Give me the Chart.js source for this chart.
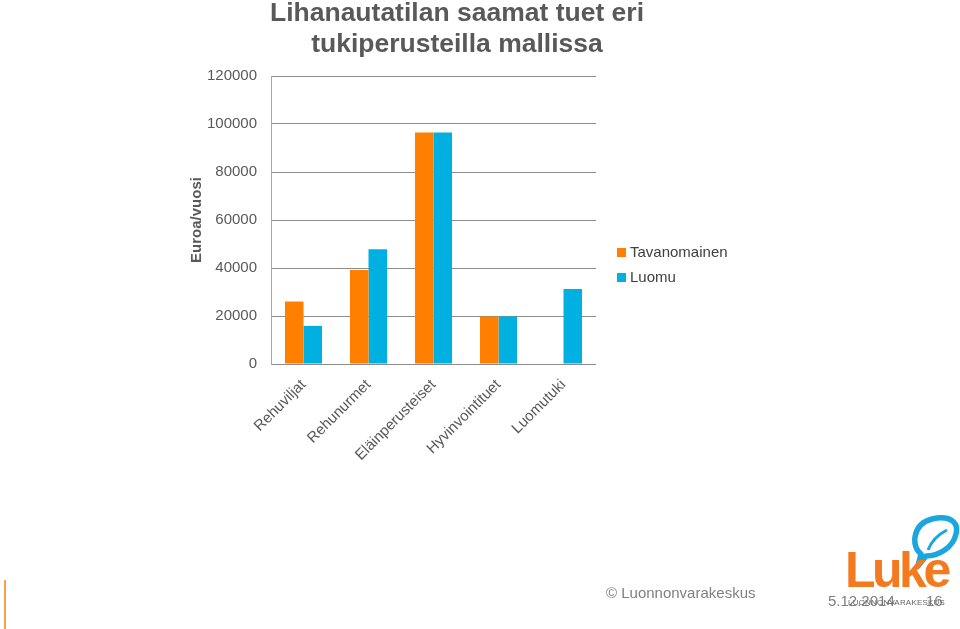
<!DOCTYPE html>
<html>
<head>
<meta charset="utf-8">
<script src="https://cdn.jsdelivr.net/npm/chart.js@4"></script>
<style>
    body { margin: 0; width: 960px; height: 629px; overflow: hidden; background: #fff; font-family: "Liberation Sans", Arial, sans-serif; }
    #wrap { position: relative; width: 960px; height: 629px; }
    #chart { position: absolute; left: 0; top: 0; }
    .title { position: absolute; left: 157px; width: 600px; top: -3px; text-align: center; font-weight: bold; font-size: 26.5px; line-height: 31px; color: #595959; }
    #legend { position: absolute; left: 617px; top: 242px; font-size: 15px; color: #404040; }
    #legend div { height: 25px; line-height: 20px; }
    #legend span.box { display: inline-block; width: 9px; height: 9px; margin-right: 4px; }
    .foot { position: absolute; color: #808080; font-size: 15px; }
    .stripe { position: absolute; left: 4px; top: 580px; width: 2px; height: 49px; background: #f7a24a; }
</style>
</head>
<body>
<div id="wrap">
    <canvas id="chart" width="960" height="629"></canvas>
    <div class="title">Lihanautatilan saamat tuet eri<br>tukiperusteilla mallissa</div>
    <div id="legend"></div>
    <div class="stripe"></div>
    <div class="foot" style="left:606px; top:584px;">© Luonnonvarakeskus</div>
    <div class="foot" style="left:828px; top:592px;">5.12.2014</div>
    <div class="foot" style="left:926px; top:592px;">16</div>
    <!-- Luke-logo -->
    <svg style="position:absolute; left:904px; top:514px;" width="56" height="56" viewBox="0 0 56 56">
        <path d="M14 52 L17 40 C7 33 8 10 28 5 C46 1 55 8 52 20 C49 34 34 42 22 42 Z" fill="none" stroke="#1aa6de" stroke-width="5.5" stroke-linejoin="round"/>
        <path d="M24 36 C28 26 35 20 43 16" fill="none" stroke="#1aa6de" stroke-width="3"/>
    </svg>
    <div style="position:absolute; left:845px; top:542px; font-size:50px; font-weight:bold; color:#f47a20; letter-spacing:-3.5px; line-height:56px;">Luke</div>
    <div style="position:absolute; left:848px; top:598px; font-size:8px; color:#666; letter-spacing:0.2px;">LUONNONVARAKESKUS</div>
</div>
<script>
    // Tukimuodot (kategoriat)
    const categories = ["Rehuviljat", "Rehunurmet", "Eläinperusteiset", "Hyvinvointituet", "Luomutuki"];
    const seriesNames = ["Tavanomainen", "Luomu"];
    const tavanomainen = [26000, 39200, 96500, 19800, null];
    const luomu = [15900, 47800, 96500, 19800, 31300];
    const seriesColors = ["#ff8000", "#00b0e0"];
    const yTicks = [0, 20000, 40000, 60000, 80000, 100000, 120000];

    const gridGray = "#8c8c8c";
    const tickGray = "#595959";

    const chart = new Chart(document.getElementById("chart"), {
        type: "bar",
        data: {
            labels: categories,
            datasets: [
                { label: seriesNames[0], data: tavanomainen, backgroundColor: seriesColors[0] },
                { label: seriesNames[1], data: luomu, backgroundColor: seriesColors[1] }
            ]
        },
        options: {
            responsive: false,
            animation: false,
            layout: { padding: { left: 180, right: 364, top: 76, bottom: 125 } },
            datasets: { bar: { categoryPercentage: 0.57, barPercentage: 1.0 } },
            plugins: { legend: { display: false }, tooltip: { enabled: false } },
            scales: {
                x: {
                    grid: { display: false },
                    border: { display: false },
                    ticks: {
                        minRotation: 45, maxRotation: 45, padding: 4,
                        color: tickGray,
                        font: { family: "'Liberation Sans', Arial, sans-serif", size: 15 }
                    },
                    afterFit: s => { s.height = 140; }
                },
                y: {
                    min: 0, max: 120000,
                    afterBuildTicks: s => { s.ticks = yTicks.map(v => ({ value: v })); },
                    grid: { color: gridGray, lineWidth: 1, drawTicks: false },
                    border: { display: true, color: "#a6a6a6" },
                    ticks: {
                        padding: 14,
                        color: tickGray,
                        font: { family: "'Liberation Sans', Arial, sans-serif", size: 15 },
                        callback: v => String(v)
                    },
                    title: {
                        display: true, text: "Euroa/vuosi",
                        color: tickGray, padding: { top: 8, bottom: 0 },
                        font: { family: "'Liberation Sans', Arial, sans-serif", size: 15, weight: "bold" }
                    },
                    afterFit: s => { s.width = 91; }
                }
            }
        }
    });

    // Selite HTML:nä
    document.getElementById("legend").innerHTML = chart.data.datasets.map(d =>
        `<div><span class="box" style="background:${d.backgroundColor}"></span>${d.label}</div>`
    ).join("");
</script>
</body>
</html>
